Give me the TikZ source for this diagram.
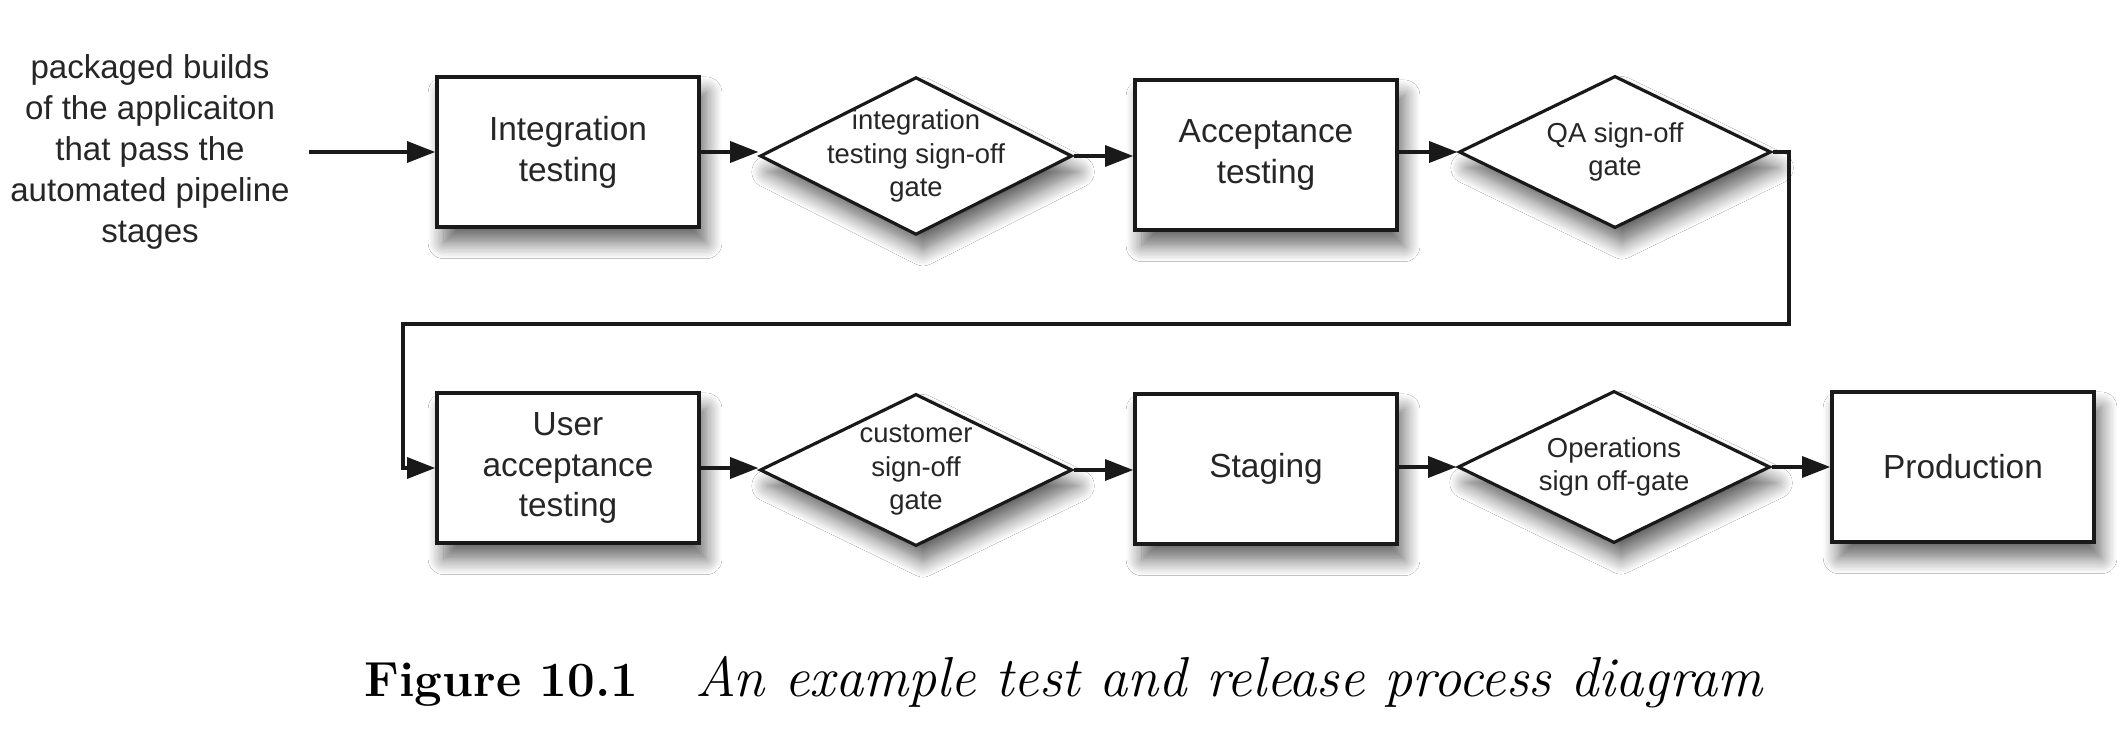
\documentclass[tikz,border=0pt]{standalone}
\usepackage{fontspec}
\setsansfont{Liberation Sans}
\usetikzlibrary{arrows.meta,shapes.geometric,shadows.blur}
\begin{document}
\begin{tikzpicture}[x=0.01cm,y=-0.01cm,
  every node/.style={inner sep=0pt},
  shade/.style={blur shadow={shadow xshift=2pt, shadow yshift=-4.5pt, shadow blur radius=4.5pt, shadow blur steps=12, shadow opacity=60}},
  stagebox/.style={draw=black!90, line width=1pt, fill=white, shade,
    minimum width=2.62cm, minimum height=1.5cm, align=center, text=black!85,
    font=\sffamily\fontsize{9.5}{11.6}\selectfont},
  gate/.style={draw=black!90, diamond, line width=0.9pt, fill=white, shade,
    inner sep=-8pt, minimum width=3.12cm, minimum height=1.52cm, align=center, text=black!85,
    font=\sffamily\fontsize{7.8}{9.5}\selectfont},
  flow/.style={-{Triangle[length=8pt,width=6pt]}, line width=0.9pt, draw=black!90}
]
\useasboundingbox (0,0) rectangle (2128,740);
\fill[white] (0,0) rectangle (2128,740);

\node[align=center, text=black!85, font=\sffamily\fontsize{9.4}{11.6}\selectfont] (src) at (150,152)
  {packaged builds\\of the applicaiton\\that pass the\\automated pipeline\\stages};
\coordinate (start) at (309,152);

\node[stagebox] (b1) at (568,152) {Integration\\testing};
\node[gate] (d1) at (916,156) {integration\\testing sign-off\\gate};
\node[stagebox] (b2) at (1266,155) {Acceptance\\testing};
\node[gate] (d2) at (1615,152) {QA sign-off\\gate};

\node[stagebox] (b3) at (568,468) {User\\acceptance\\testing};
\node[gate] (d3) at (916,470) {customer\\sign-off\\gate};
\node[stagebox] (b4) at (1266,469) {Staging};
\node[gate] (d4) at (1614,467) {Operations\\sign off-gate};
\node[stagebox] (b5) at (1963,467) {Production};

\coordinate (rt) at (1789,324);
\coordinate (lt) at (403,324);

\draw[flow] (start) -- (b1.west);
\draw[flow] (b1.east) -- (b1.east -| d1.west);
\draw[flow] (d1.east) -- (d1.east -| b2.west);
\draw[flow] (b2.east |- d2.west) -- (d2.west);
\draw[flow] (d2.east) -| (rt) -- (lt) |- (b3.west);
\draw[flow] (b3.east) -- (b3.east -| d3.west);
\draw[flow] (d3.east) -- (d3.east -| b4.west);
\draw[flow] (b4.east |- d4.west) -- (d4.west);
\draw[flow] (d4.east) -- (d4.east -| b5.west);

\node[anchor=base west, font=\bfseries\fontsize{14}{16}\selectfont] (figno) at (364,696) {Figure 10.1};
\node[anchor=base west, font=\itshape\fontsize{16}{18}\selectfont] (figcap) at (695,696) {An example test and release process diagram};
\end{tikzpicture}
\end{document}
